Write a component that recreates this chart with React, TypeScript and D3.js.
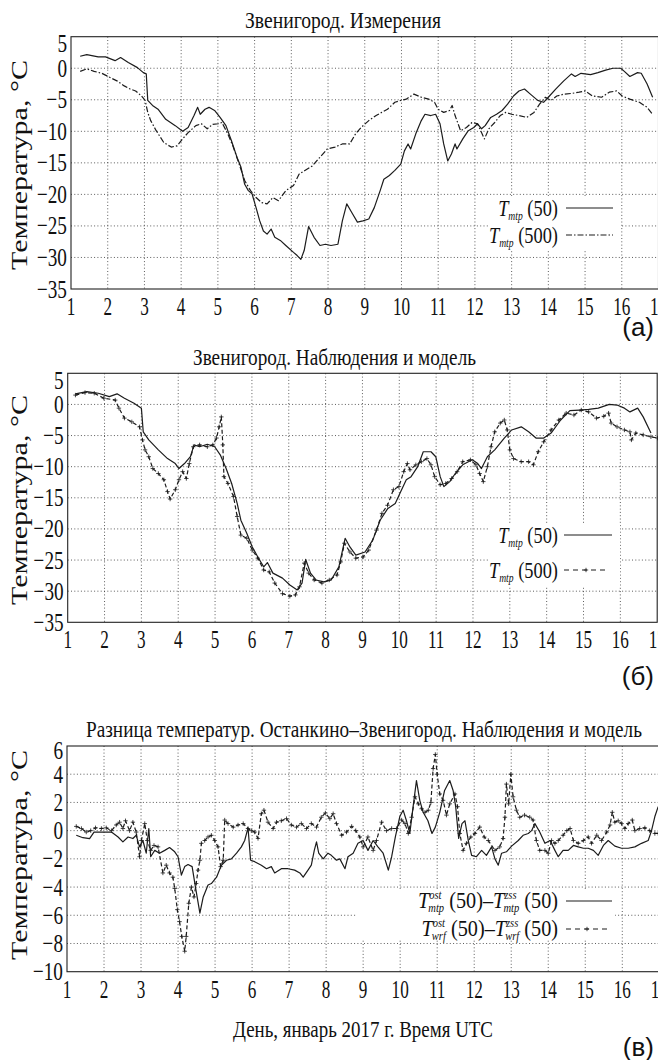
import React from 'react';
import * as d3 from 'd3';

type Pt = [number, number];

const DAYS = d3.range(1, 18);
const A_TICKS = [5, 0, -5, -10, -15, -20, -25, -30, -35];
const C_TICKS = [6, 4, 2, 0, -2, -4, -6, -8, -10];

// Panel (а): measurements
const A_T50: Pt[] = [[1.25,1.9],[1.43,2.15],[1.74,1.8],[1.94,1.8],[2.2,1.2],[2.35,1.7],[2.56,0.9],[2.81,0.1],[2.97,-0.7],[3.05,-0.9],[3.09,-5.1],[3.22,-5.9],[3.37,-6.5],[3.58,-8.1],[3.84,-9.1],[4.04,-10.0],[4.19,-9.4],[4.35,-7.5],[4.45,-6.2],[4.52,-7.3],[4.65,-6.5],[4.76,-6.2],[4.91,-6.7],[5.06,-7.8],[5.22,-9.1],[5.37,-11.5],[5.52,-14.1],[5.63,-15.7],[5.73,-18.4],[5.83,-19.4],[5.93,-19.9],[6.04,-22.1],[6.14,-24.2],[6.24,-25.8],[6.34,-26.3],[6.45,-25.5],[6.55,-26.8],[6.7,-27.3],[6.85,-28.1],[7.06,-29.2],[7.16,-29.7],[7.26,-30.3],[7.35,-28.9],[7.47,-25.1],[7.62,-26.8],[7.78,-28.1],[7.93,-27.9],[8.08,-28.1],[8.27,-27.9],[8.39,-24.2],[8.51,-21.5],[8.65,-22.9],[8.8,-24.4],[8.95,-24.2],[9.11,-23.9],[9.26,-22.1],[9.42,-19.4],[9.52,-17.6],[9.67,-17.0],[9.82,-16.2],[9.98,-15.2],[10.08,-13.1],[10.18,-12.0],[10.25,-12.8],[10.39,-10.4],[10.54,-8.3],[10.64,-7.3],[10.8,-7.5],[10.93,-7.3],[11.05,-8.8],[11.15,-12.0],[11.26,-14.7],[11.36,-13.6],[11.46,-12.0],[11.51,-12.8],[11.67,-11.2],[11.82,-9.9],[11.97,-9.4],[12.07,-8.8],[12.18,-9.6],[12.28,-9.1],[12.43,-7.8],[12.59,-7.3],[12.74,-6.7],[12.89,-5.7],[13.05,-4.4],[13.2,-3.6],[13.35,-3.3],[13.51,-4.1],[13.71,-5.1],[13.87,-5.4],[14.0,-4.6],[14.2,-3.3],[14.42,-2.0],[14.63,-0.9],[14.73,-1.3],[14.89,-0.8],[15.15,-1.0],[15.35,-0.7],[15.56,-0.3],[15.76,0.0],[15.97,0.0],[16.07,-0.5],[16.22,-1.3],[16.43,-0.7],[16.53,-0.8],[16.69,-2.5],[16.84,-4.6]];

const A_T500: Pt[] = [[1.25,-0.5],[1.43,-0.1],[1.63,-0.5],[1.84,-0.8],[2.04,-1.4],[2.25,-2.0],[2.45,-2.8],[2.61,-3.3],[2.76,-3.6],[2.92,-4.4],[3.02,-5.1],[3.09,-7.0],[3.17,-8.3],[3.32,-9.9],[3.53,-11.8],[3.73,-12.5],[3.89,-12.3],[4.04,-11.2],[4.19,-10.2],[4.4,-9.1],[4.55,-8.8],[4.71,-9.6],[4.86,-8.9],[5.01,-8.8],[5.11,-8.6],[5.27,-10.4],[5.42,-12.5],[5.58,-15.2],[5.73,-17.8],[5.89,-19.4],[6.04,-20.5],[6.19,-21.3],[6.34,-21.5],[6.5,-20.5],[6.65,-21.0],[6.85,-19.4],[7.06,-18.6],[7.21,-16.8],[7.37,-16.2],[7.57,-15.5],[7.78,-14.1],[7.98,-12.8],[8.19,-12.5],[8.39,-12.0],[8.59,-12.0],[8.75,-10.4],[8.9,-9.4],[9.11,-8.3],[9.31,-7.5],[9.46,-7.0],[9.62,-6.5],[9.82,-5.4],[9.98,-5.1],[10.13,-4.9],[10.34,-4.1],[10.54,-4.6],[10.74,-4.9],[10.9,-5.4],[11.0,-6.5],[11.15,-7.0],[11.31,-6.7],[11.38,-5.9],[11.46,-7.5],[11.61,-9.9],[11.77,-9.4],[11.92,-8.6],[12.07,-8.8],[12.18,-10.2],[12.26,-11.2],[12.38,-9.6],[12.54,-8.6],[12.69,-7.5],[12.84,-7.0],[13.0,-7.3],[13.2,-7.5],[13.41,-7.8],[13.61,-7.0],[13.76,-5.7],[13.92,-4.6],[14.07,-5.1],[14.23,-4.4],[14.43,-4.1],[14.63,-4.0],[14.84,-3.8],[15.0,-3.6],[15.2,-4.4],[15.45,-4.6],[15.66,-3.8],[15.86,-3.6],[16.01,-4.4],[16.22,-4.9],[16.48,-5.4],[16.69,-6.2],[16.84,-7.3]];

// Panel (б): observations and model
const B_T50: Pt[] = [[1.21,1.7],[1.52,2.05],[1.83,1.8],[2.13,1.25],[2.34,1.7],[2.54,1.0],[2.8,0.2],[3.0,-0.6],[3.05,-4.4],[3.2,-5.7],[3.46,-7.3],[3.71,-8.7],[3.92,-9.5],[4.02,-10.3],[4.17,-9.5],[4.33,-8.4],[4.43,-6.5],[4.58,-6.8],[4.79,-6.4],[4.99,-6.8],[5.14,-8.1],[5.3,-10.3],[5.45,-12.7],[5.6,-15.9],[5.7,-18.6],[5.86,-20.7],[6.01,-22.9],[6.16,-24.5],[6.32,-26.1],[6.42,-25.4],[6.57,-27.1],[6.83,-27.9],[7.03,-29.0],[7.23,-29.8],[7.36,-28.7],[7.46,-24.9],[7.59,-27.1],[7.74,-28.2],[7.95,-28.5],[8.15,-28.2],[8.36,-26.1],[8.53,-21.5],[8.66,-22.9],[8.82,-24.2],[9.07,-23.7],[9.28,-21.8],[9.48,-18.6],[9.69,-16.7],[9.89,-15.9],[10.04,-14.0],[10.19,-12.1],[10.32,-11.6],[10.5,-10.0],[10.65,-7.6],[10.86,-7.6],[10.99,-8.4],[11.11,-11.6],[11.21,-13.2],[11.37,-12.4],[11.52,-11.1],[11.72,-9.7],[11.98,-8.9],[12.13,-9.5],[12.23,-10.3],[12.39,-8.4],[12.59,-7.3],[12.85,-5.4],[13.05,-4.1],[13.31,-3.6],[13.51,-4.4],[13.71,-5.4],[13.92,-5.4],[14.12,-4.6],[14.38,-2.5],[14.63,-1.0],[14.89,-0.9],[15.14,-0.8],[15.4,-0.6],[15.7,0.0],[15.91,-0.1],[16.11,-0.6],[16.26,-1.2],[16.47,-0.6],[16.62,-2.0],[16.83,-4.6]];

const B_WRF: Pt[] = [[1.21,1.5],[1.47,1.9],[1.72,1.8],[1.98,1.0],[2.29,0.7],[2.39,-0.6],[2.54,-2.2],[2.74,-2.8],[2.95,-3.6],[3.03,-5.7],[3.1,-7.3],[3.2,-8.4],[3.31,-10.3],[3.46,-11.1],[3.61,-12.1],[3.71,-14.0],[3.78,-15.2],[3.92,-13.7],[4.02,-12.1],[4.12,-10.8],[4.22,-11.9],[4.3,-9.5],[4.41,-6.8],[4.58,-6.5],[4.79,-6.8],[4.94,-6.5],[5.04,-5.4],[5.11,-3.6],[5.17,-2.0],[5.21,-6.5],[5.24,-11.6],[5.35,-12.7],[5.5,-14.8],[5.6,-18.0],[5.7,-21.0],[5.86,-21.5],[6.01,-23.4],[6.16,-24.7],[6.32,-26.6],[6.47,-26.9],[6.62,-28.7],[6.83,-30.4],[7.03,-30.8],[7.18,-30.6],[7.29,-29.3],[7.42,-25.5],[7.54,-27.1],[7.69,-28.2],[7.9,-28.7],[8.1,-28.2],[8.31,-27.4],[8.41,-25.3],[8.51,-22.3],[8.66,-23.7],[8.82,-24.7],[9.02,-24.5],[9.17,-23.4],[9.38,-20.2],[9.53,-17.5],[9.68,-16.2],[9.84,-13.7],[9.99,-13.2],[10.12,-10.8],[10.22,-9.5],[10.29,-10.5],[10.45,-9.7],[10.6,-9.2],[10.75,-8.7],[10.86,-9.7],[10.96,-11.6],[11.11,-12.9],[11.26,-12.7],[11.42,-11.9],[11.57,-10.8],[11.72,-9.2],[11.93,-8.9],[12.08,-9.7],[12.18,-11.1],[12.28,-12.4],[12.39,-10.0],[12.49,-6.8],[12.59,-4.4],[12.74,-3.0],[12.85,-2.5],[12.93,-4.1],[13.0,-7.3],[13.1,-8.7],[13.31,-9.2],[13.51,-9.2],[13.64,-9.7],[13.77,-7.6],[13.92,-6.0],[14.12,-4.1],[14.33,-2.5],[14.53,-1.4],[14.74,-1.7],[14.94,-0.9],[15.14,-1.2],[15.35,-2.2],[15.55,-1.9],[15.68,-1.4],[15.75,-3.0],[15.91,-3.6],[16.11,-4.1],[16.26,-4.4],[16.3,-5.7],[16.42,-4.6],[16.62,-4.9],[16.83,-5.2],[17.01,-5.4]];

// Panel (в): Ostankino - Zvenigorod difference
const C_MTP: Pt[] = [[1.25,-0.33],[1.43,-0.5],[1.61,-0.56],[1.73,-0.1],[1.93,-0.1],[2.2,-0.1],[2.38,-0.45],[2.51,-0.8],[2.65,-0.45],[2.78,-0.56],[2.87,-0.33],[2.96,-1.15],[3.05,-0.7],[3.14,-1.6],[3.21,0.15],[3.26,-1.85],[3.37,-1.4],[3.5,-1.6],[3.64,-1.4],[3.77,-1.2],[3.91,-1.5],[4.0,-1.85],[4.09,-3.15],[4.18,-2.55],[4.27,-2.4],[4.38,-2.55],[4.47,-4.0],[4.59,-5.85],[4.68,-4.7],[4.81,-3.85],[4.9,-3.75],[5.04,-3.3],[5.17,-2.45],[5.31,-2.1],[5.44,-2.0],[5.58,-1.6],[5.71,-1.15],[5.8,-0.7],[5.89,0.2],[5.96,-2.1],[6.07,-2.2],[6.25,-2.45],[6.39,-2.7],[6.52,-2.55],[6.61,-3.0],[6.79,-2.7],[6.97,-2.7],[7.15,-2.8],[7.29,-3.0],[7.38,-3.3],[7.51,-2.8],[7.6,-2.45],[7.68,-1.4],[7.74,-0.8],[7.8,-1.6],[7.92,-2.0],[8.05,-1.6],[8.14,-1.75],[8.28,-2.1],[8.37,-2.0],[8.51,-2.7],[8.59,-1.85],[8.73,-1.6],[8.86,-0.9],[9.0,-0.7],[9.13,-1.4],[9.27,-0.7],[9.4,-1.15],[9.54,-1.6],[9.68,-2.8],[9.77,-1.85],[9.87,-0.45],[9.99,1.0],[10.08,1.45],[10.17,0.7],[10.26,-0.2],[10.35,1.7],[10.44,3.55],[10.53,2.15],[10.62,1.3],[10.75,0.7],[10.86,-0.2],[10.95,0.25],[11.07,1.3],[11.2,2.85],[11.34,3.55],[11.43,2.85],[11.5,1.7],[11.58,-0.55],[11.67,0.5],[11.75,0.7],[11.84,-0.7],[11.93,-1.75],[12.06,-1.85],[12.2,-1.4],[12.33,-1.75],[12.47,-1.15],[12.56,-2.0],[12.65,-2.45],[12.74,-1.6],[12.87,-1.5],[13.01,-1.1],[13.19,-0.7],[13.32,-0.33],[13.46,-0.2],[13.55,0.0],[13.64,0.5],[13.77,-0.1],[13.91,-0.9],[14.05,-0.7],[14.18,-1.4],[14.27,-1.85],[14.4,-1.4],[14.54,-1.4],[14.68,-1.05],[14.81,-1.15],[14.95,-1.25],[15.08,-1.25],[15.22,-1.4],[15.35,-1.75],[15.49,-1.05],[15.62,-0.7],[15.8,-1.1],[15.98,-1.25],[16.16,-1.25],[16.34,-1.15],[16.52,-0.9],[16.7,-0.7],[16.79,0.0],[16.88,1.0],[16.97,1.7]];

const C_WRF: Pt[] = [[1.25,0.3],[1.39,0.15],[1.52,-0.1],[1.64,0.0],[1.77,0.2],[1.93,0.15],[2.06,0.2],[2.2,0.0],[2.33,0.4],[2.42,0.6],[2.51,0.15],[2.58,0.7],[2.69,0.0],[2.78,0.6],[2.87,-0.1],[2.96,-1.85],[3.01,-0.7],[3.1,0.5],[3.17,-0.7],[3.26,-1.4],[3.35,-1.05],[3.46,-1.15],[3.59,-3.0],[3.68,-2.45],[3.77,-3.0],[3.86,-3.3],[3.91,-4.1],[3.98,-5.6],[4.04,-6.45],[4.1,-7.5],[4.18,-8.55],[4.22,-7.5],[4.29,-5.15],[4.36,-4.0],[4.43,-4.7],[4.49,-3.75],[4.54,-2.8],[4.59,-2.1],[4.63,-0.9],[4.72,-0.7],[4.81,-0.45],[4.9,-0.33],[4.99,-0.7],[5.08,-1.15],[5.15,-2.55],[5.22,-2.1],[5.26,0.75],[5.35,0.5],[5.49,0.25],[5.62,0.4],[5.76,0.5],[5.89,0.15],[5.98,0.0],[6.07,-0.1],[6.16,-0.55],[6.25,1.2],[6.32,1.45],[6.43,0.6],[6.57,0.15],[6.66,0.6],[6.79,0.7],[6.93,0.85],[7.06,0.4],[7.2,0.25],[7.33,0.5],[7.47,0.15],[7.6,0.5],[7.74,0.25],[7.87,0.95],[7.98,1.25],[8.1,0.85],[8.19,1.2],[8.28,0.5],[8.42,-0.33],[8.55,-0.1],[8.69,0.3],[8.8,0.0],[8.91,-0.45],[9.0,-1.15],[9.13,-0.45],[9.27,-1.4],[9.36,-0.7],[9.5,0.6],[9.63,0.0],[9.77,0.15],[9.9,0.15],[10.04,0.75],[10.13,0.5],[10.22,-0.2],[10.31,0.95],[10.4,2.4],[10.49,1.9],[10.58,1.55],[10.67,1.3],[10.76,1.45],[10.83,2.0],[10.89,4.4],[10.95,5.4],[11.0,4.0],[11.07,2.6],[11.16,2.15],[11.25,1.1],[11.34,1.9],[11.48,2.6],[11.55,1.7],[11.61,-0.2],[11.7,-1.4],[11.79,-0.9],[11.91,-0.45],[12.02,-0.2],[12.15,0.25],[12.27,-0.45],[12.38,-0.7],[12.56,-1.4],[12.69,-1.15],[12.78,-0.56],[12.83,0.95],[12.87,3.3],[12.93,1.9],[12.99,4.0],[13.05,2.4],[13.14,1.45],[13.23,0.95],[13.36,1.1],[13.5,0.95],[13.59,0.75],[13.68,-0.7],[13.77,-1.4],[13.91,-1.4],[14.0,-1.6],[14.09,-0.7],[14.18,-0.9],[14.27,-0.7],[14.4,-0.33],[14.5,0.0],[14.59,0.15],[14.68,-0.7],[14.81,-0.9],[14.95,-0.7],[15.08,-0.45],[15.17,-0.9],[15.31,-0.33],[15.44,-0.7],[15.58,-0.1],[15.67,0.4],[15.73,1.3],[15.8,0.6],[15.89,0.7],[15.98,0.5],[16.07,0.15],[16.16,0.5],[16.27,0.75],[16.34,0.0],[16.47,0.15],[16.61,0.2],[16.74,0.0],[16.88,-0.2],[16.97,-0.2]];

const SERIF = "'Liberation Serif', 'DejaVu Serif', serif";
const INK = '#1c1c1c';

type Cfg = {
  x0: number; x1: number; yTop: number; yBot: number;
  yMax: number; yMin: number; ticks: number[]; topShift: number;
};

const PA: Cfg = { x0: 71, x1: 658.5, yTop: 36.7, yBot: 289, yMax: 5, yMin: -35, ticks: A_TICKS, topShift: 7 };
const PB: Cfg = { x0: 67.7, x1: 657.2, yTop: 373.3, yBot: 622.3, yMax: 5, yMin: -35, ticks: A_TICKS, topShift: 7 };
const PC: Cfg = { x0: 67, x1: 659.3, yTop: 746, yBot: 971.7, yMax: 6, yMin: -10, ticks: C_TICKS, topShift: 4 };

function scales(c: Cfg) {
  const x = d3.scaleLinear().domain([1, 17]).range([c.x0, c.x1]);
  const y = d3.scaleLinear().domain([c.yMin, c.yMax]).range([c.yBot, c.yTop]);
  return { x, y };
}

function Frame({ c }: { c: Cfg }) {
  const { x, y } = scales(c);
  return (
    <g>
      {DAYS.slice(1, -1).map((d) => (
        <line key={'gx' + d} x1={x(d)} x2={x(d)} y1={c.yTop} y2={c.yBot} stroke="#333" strokeWidth={0.8} strokeDasharray="1 2.3" />
      ))}
      {c.ticks.slice(1, -1).map((t) => (
        <line key={'gy' + t} x1={c.x0} x2={c.x1} y1={y(t)} y2={y(t)} stroke="#333" strokeWidth={0.8} strokeDasharray="1 2.3" />
      ))}
      <rect x={c.x0} y={c.yTop} width={c.x1 - c.x0} height={c.yBot - c.yTop} fill="none" stroke="#222" strokeWidth={1.1} />
      {c.ticks.map((t, i) => (
        <text key={'ty' + t} transform={`translate(${c.x0 - 4},${y(t) + 8.5 + (i === 0 ? c.topShift : 0)}) scale(0.74,1)`}
          textAnchor="end" fontFamily={SERIF} fontSize={26} fill="#111">
          {t < 0 ? '\u2212' + Math.abs(t) : String(t)}
        </text>
      ))}
      {DAYS.map((d) => (
        <text key={'tx' + d} transform={`translate(${x(d)},${c.yBot + 26}) scale(0.66,1)`}
          textAnchor="middle" fontFamily={SERIF} fontSize={26} fill="#111">
          {d}
        </text>
      ))}
    </g>
  );
}

function Curve({ c, data, dash, plus }: { c: Cfg; data: Pt[]; dash?: string; plus?: boolean }) {
  const { x, y } = scales(c);
  const line = d3.line<Pt>().x((d) => x(d[0])).y((d) => y(d[1]));
  return (
    <g>
      <path d={line(data) || ''} fill="none" stroke={INK} strokeWidth={1.2} strokeDasharray={dash} strokeLinejoin="round" />
      {plus && data.map((d, i) => (
        <path key={i} d={`M${x(d[0]) - 2.2},${y(d[1])}h4.4M${x(d[0])},${y(d[1]) - 2.2}v4.4`} stroke={INK} strokeWidth={0.8} />
      ))}
    </g>
  );
}

function YLabel({ cy }: { cy: number }) {
  return (
    <text transform={`translate(27,${cy}) rotate(-90)`} textAnchor="middle" fontFamily={SERIF} fontSize={24}
      textLength={210} lengthAdjust="spacingAndGlyphs" fill="#111">
      Температура, °C
    </text>
  );
}

function Title({ x, y, len, text }: { x: number; y: number; len: number; text: string }) {
  return (
    <text x={x} y={y} textAnchor="middle" fontFamily={SERIF} fontSize={23} textLength={len}
      lengthAdjust="spacingAndGlyphs" fill="#111">{text}</text>
  );
}

function SimpleLegendRow({ x, y, label }: { x: number; y: number; label: string }) {
  return (
    <text transform={`translate(${x},${y}) scale(0.8,1)`} textAnchor="end" fontFamily={SERIF} fontSize={23} fill="#111">
      <tspan fontStyle="italic">T</tspan>
      <tspan fontStyle="italic" fontSize={12} dy={4}>mtp</tspan>
      <tspan dy={-4}>{' ' + label}</tspan>
    </text>
  );
}

function DiffLegendRow({ x, y, sub }: { x: number; y: number; sub: string }) {
  return (
    <text transform={`translate(${x},${y}) scale(0.88,1)`} textAnchor="end" fontFamily={SERIF} fontSize={23} fill="#111">
      <tspan fontStyle="italic">T</tspan>
      <tspan fontStyle="italic" fontSize={12} dy={-9}>ost</tspan>
      <tspan fontStyle="italic" fontSize={12} dx={-15} dy={13}>{sub}</tspan>
      <tspan dy={-4}>{' (50)\u2013'}</tspan>
      <tspan fontStyle="italic">T</tspan>
      <tspan fontStyle="italic" fontSize={12} dy={-9}>zss</tspan>
      <tspan fontStyle="italic" fontSize={12} dx={-15} dy={13}>{sub}</tspan>
      <tspan dy={-4}>{' (50)'}</tspan>
    </text>
  );
}

function DashPlusSample({ x1, x2, y }: { x1: number; x2: number; y: number }) {
  const m = (x1 + x2) / 2;
  return (
    <g>
      <line x1={x1} x2={x2} y1={y} y2={y} stroke={INK} strokeWidth={1.2} strokeDasharray="5 4" />
      <path d={`M${m - 2.2},${y}h4.4M${m},${y - 2.2}v4.4`} stroke={INK} strokeWidth={0.8} />
    </g>
  );
}

function PanelLabel({ y, text }: { y: number; text: string }) {
  return (
    <text x={654} y={y} textAnchor="end" fontFamily="'Liberation Sans', Arial, sans-serif" fontSize={26} fill="#111">{text}</text>
  );
}

export default function App() {
  return (
    <svg width={658} height={1060} viewBox="0 0 658 1060"
      style={{ position: 'absolute', left: 0, top: 0, background: '#fff', overflow: 'hidden' }}>
      <rect x={0} y={0} width={658} height={1060} fill="#fff" />

      {/* Panel (а) */}
      <Title x={343} y={28} len={196} text="Звенигород. Измерения" />
      <Frame c={PA} />
      <rect x={489} y={196} width={131} height={54} fill="#fff" />
      <Curve c={PA} data={A_T500} dash="6 2 1.5 2" />
      <Curve c={PA} data={A_T50} />
      <SimpleLegendRow x={558} y={216} label="(50)" />
      <line x1={566} x2={613} y1={208} y2={208} stroke={INK} strokeWidth={1.2} />
      <SimpleLegendRow x={558} y={243} label="(500)" />
      <line x1={566} x2={613} y1={235} y2={235} stroke={INK} strokeWidth={1.2} strokeDasharray="6 2 1.5 2" />
      <YLabel cy={165} />
      <PanelLabel y={336} text="(а)" />

      {/* Panel (б) */}
      <Title x={334.5} y={365} len={283} text="Звенигород. Наблюдения и модель" />
      <Frame c={PB} />
      <rect x={489} y={523} width={131} height={63} fill="#fff" />
      <Curve c={PB} data={B_WRF} dash="4 2.5" plus />
      <Curve c={PB} data={B_T50} />
      <SimpleLegendRow x={558} y={543} label="(50)" />
      <line x1={564} x2={612} y1={535} y2={535} stroke={INK} strokeWidth={1.2} />
      <SimpleLegendRow x={558} y={578} label="(500)" />
      <DashPlusSample x1={564} x2={608} y={570} />
      <YLabel cy={500} />
      <PanelLabel y={685} text="(б)" />

      {/* Panel (в) */}
      <Title x={364} y={737} len={556} text="Разница температур. Останкино–Звенигород. Наблюдения и модель" />
      <Frame c={PC} />
      <rect x={357} y={890} width={258} height={50} fill="#fff" />
      <Curve c={PC} data={C_WRF} dash="4 2.5" plus />
      <Curve c={PC} data={C_MTP} />
      <DiffLegendRow x={558} y={908} sub="mtp" />
      <line x1={566} x2={612} y1={901} y2={901} stroke={INK} strokeWidth={1.2} />
      <DiffLegendRow x={558} y={936} sub="wrf" />
      <DashPlusSample x1={566} x2={608} y={929} />
      <YLabel cy={855} />
      <text x={363} y={1037} textAnchor="middle" fontFamily={SERIF} fontSize={23} textLength={260}
        lengthAdjust="spacingAndGlyphs" fill="#111">День, январь 2017 г. Время UTC</text>
      <PanelLabel y={1056} text="(в)" />
    </svg>
  );
}
